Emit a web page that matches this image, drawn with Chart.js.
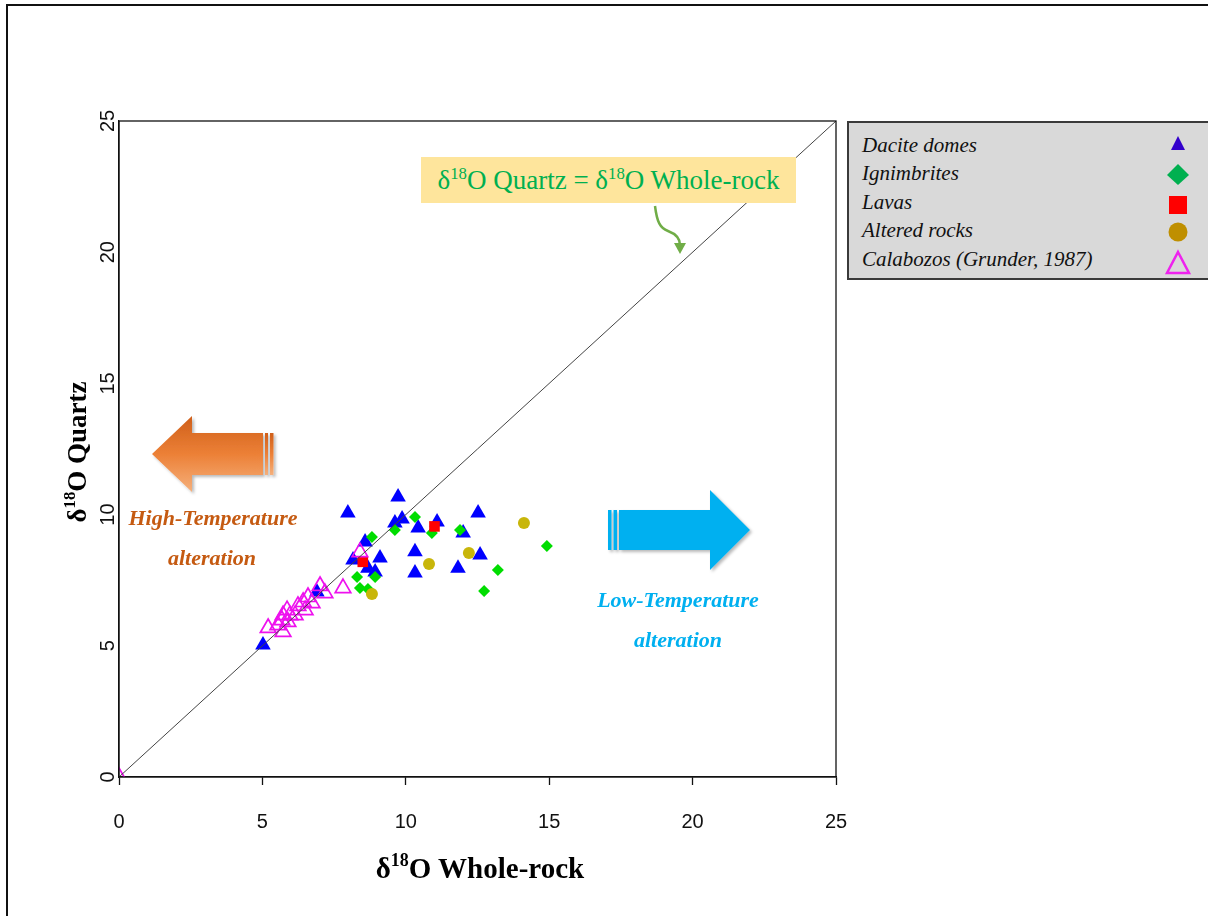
<!DOCTYPE html>
<html>
<head>
<meta charset="utf-8">
<script src="https://cdn.jsdelivr.net/npm/chart.js@4.4.1/dist/chart.umd.min.js"></script>
<style>
  html, body { margin: 0; padding: 0; background: #fff; }
  #wrap { position: relative; width: 1208px; height: 916px; overflow: hidden; background: #fff; }
  #frame { position: absolute; left: 6px; top: 4px; width: 1300px; height: 1000px;
           border-left: 2px solid #111; border-top: 2px solid #111; pointer-events: none; }
  #chart { position: absolute; left: 0; top: 0; }
  .serif { font-family: "Liberation Serif", "Times New Roman", serif; white-space: nowrap; position: absolute; }
  .sup { font-size: 0.62em; vertical-align: 0.62em; line-height: 0; }
  #xtitle { left: 480px; top: 868px; transform: translate(-50%, -50%); font-weight: bold; font-size: 29px; color: #000; }
  #ytitle { left: 77px; top: 452px; transform: translate(-50%, -50%) rotate(-90deg); font-weight: bold; font-size: 27px; color: #000; }
  #identity { left: 421px; top: 157px; width: 375px; height: 46px; background: #fee59c;
              color: #00b050; font-size: 27px; line-height: 46px; text-align: center; }
  .note { font-weight: bold; font-style: italic; font-size: 22px; transform: translate(-50%, -50%); }
  #legend { position: absolute; left: 847px; top: 121px; width: 400px; height: 155px;
            background: #d9d9d9; border: 2px solid #3a3a3a; }
  .lg { position: absolute; left: 13px; font-family: "Liberation Serif", "Times New Roman", serif;
        font-style: italic; font-size: 21px; color: #111; white-space: nowrap; }
  svg { position: absolute; left: 0; top: 0; overflow: visible; }
</style>
</head>
<body>
<div id="wrap">
  <canvas id="chart" width="1208" height="916"></canvas>

  <!-- alteration arrows and the pointer to the 1:1 line -->
  <svg width="1208" height="916" viewBox="0 0 1208 916">
    <defs>
      <linearGradient id="hotGrad" x1="0" y1="0" x2="0" y2="1">
        <stop offset="0" stop-color="#cf5f1a"/>
        <stop offset="0.5" stop-color="#ec8036"/>
        <stop offset="1" stop-color="#f5b07c"/>
      </linearGradient>
      <filter id="shade" x="-10%" y="-10%" width="130%" height="130%">
        <feDropShadow dx="2" dy="2" stdDeviation="1.5" flood-color="#000" flood-opacity="0.28"/>
      </filter>
    </defs>
    <g filter="url(#shade)">
      <path d="M152 454 L192 416 L192 433 L263 433 L263 475 L192 475 L192 492 Z" fill="url(#hotGrad)"/>
      <rect x="265" y="433" width="3" height="42" fill="url(#hotGrad)"/>
      <rect x="270" y="433" width="3.5" height="42" fill="url(#hotGrad)"/>
    </g>
    <g filter="url(#shade)">
      <rect x="608" y="510" width="3.5" height="40" fill="#00b0f0"/>
      <rect x="613.5" y="510" width="3.5" height="40" fill="#00b0f0"/>
      <path d="M619 510 L710 510 L710 490 L750 530 L710 570 L710 550 L619 550 Z" fill="#00b0f0"/>
    </g>
    <path d="M655 206 C 657 222, 660 228, 668 231 C 676 234, 680 238, 680 245" fill="none" stroke="#70ad47" stroke-width="2.5"/>
    <path d="M674 243 L686 243 L680 254 Z" fill="#70ad47"/>
  </svg>

  <div class="serif" id="identity">&delta;<span class="sup">18</span>O Quartz = &delta;<span class="sup">18</span>O Whole-rock</div>

  <div class="serif note" style="left:213px; top:518px; color:#c55a11;">High-Temperature</div>
  <div class="serif note" style="left:212px; top:558px; color:#c55a11;">alteration</div>
  <div class="serif note" style="left:678px; top:600px; color:#00b0f0;">Low-Temperature</div>
  <div class="serif note" style="left:678px; top:640px; color:#00b0f0;">alteration</div>

  <div class="serif" id="xtitle">&delta;<span class="sup">18</span>O Whole-rock</div>
  <div class="serif" id="ytitle">&delta;<span class="sup">18</span>O Quartz</div>

  <div id="legend">
    <div class="lg" style="top:10px;">Dacite domes</div>
    <div class="lg" style="top:38px;">Ignimbrites</div>
    <div class="lg" style="top:67px;">Lavas</div>
    <div class="lg" style="top:95px;">Altered rocks</div>
    <div class="lg" style="top:124px;">Calabozos (Grunder, 1987)</div>
    <svg width="400" height="160">
      <path d="M329 13 L336 27 L322 27 Z" fill="#3300cc"/>
      <path d="M329 41 L340 52 L329 62 L318 52 Z" fill="#00b050"/>
      <rect x="320" y="73" width="18" height="18" fill="#ff0000"/>
      <circle cx="329" cy="109" r="9.5" fill="#bf8f00"/>
      <path d="M329 129 L340 150 L318 150 Z" fill="none" stroke="#ee22ee" stroke-width="2.5"/>
    </svg>
  </div>

  <div id="frame"></div>
</div>

<script>
// δ18O whole-rock (x) vs δ18O quartz (y), per rock group
const daciteX = [5.02, 6.90, 7.98, 8.16, 8.58, 8.68, 8.93, 9.10, 9.62, 9.73, 9.87, 10.32, 10.32, 10.43, 11.09, 11.82, 12.00, 12.52, 12.59];
const daciteY = [5.03, 7.05, 10.06, 8.27, 8.96, 7.96, 7.81, 8.35, 9.68, 10.67, 9.83, 8.58, 7.77, 9.49, 9.72, 7.96, 9.30, 10.06, 8.46];

const ignimbriteX = [8.30, 8.40, 8.68, 8.82, 8.93, 9.62, 10.32, 10.91, 11.89, 12.73, 13.21, 14.92];
const ignimbriteY = [7.62, 7.20, 7.16, 9.15, 7.62, 9.41, 9.91, 9.30, 9.41, 7.09, 7.89, 8.80];

const lavaX = [8.50, 11.00];
const lavaY = [8.20, 9.55];

const alteredX = [8.82, 10.81, 12.20, 14.12];
const alteredY = [6.97, 8.12, 8.54, 9.68];

const calabozosX = [0.00, 5.20, 5.54, 5.68, 5.72, 5.72, 5.86, 5.89, 5.96, 6.14, 6.24, 6.42, 6.49, 6.59, 6.73, 7.01, 7.18, 7.81, 8.40];
const calabozosY = [0.00, 5.68, 5.79, 5.98, 5.53, 6.17, 6.36, 5.91, 6.17, 6.17, 6.52, 6.67, 6.36, 6.86, 6.63, 7.28, 7.01, 7.20, 8.57];

// 1:1 reference line end points
const identityX = [0, 25];
const identityY = [0, 25];

const axisTicks = [0, 5, 10, 15, 20, 25];

const pairs = (xs, ys) => xs.map((x, i) => ({ x: x, y: ys[i] }));

// frame around the plotting region plus rotated y tick labels
const boxAndLabels = {
  id: 'boxAndLabels',
  afterDraw(chart) {
    const { ctx, chartArea: a, scales } = chart;
    ctx.save();
    ctx.strokeStyle = '#111';
    ctx.lineWidth = 1.3;
    ctx.strokeRect(a.left, a.top, a.right - a.left, a.bottom - a.top);
    ctx.fillStyle = '#111';
    ctx.font = '20px "Liberation Sans", Arial, sans-serif';
    ctx.textAlign = 'center';
    ctx.textBaseline = 'middle';
    scales.y.ticks.forEach(t => {
      const py = scales.y.getPixelForValue(t.value);
      ctx.save();
      ctx.translate(a.left - 11, py);
      ctx.rotate(-Math.PI / 2);
      ctx.fillText(String(t.value), 0, 0);
      ctx.restore();
    });
    ctx.restore();
  }
};

new Chart(document.getElementById('chart'), {
  type: 'scatter',
  data: {
    datasets: [
      {
        label: 'identity', type: 'line', data: pairs(identityX, identityY),
        borderColor: '#444', borderWidth: 1, pointRadius: 0, fill: false, order: 0
      },
      {
        label: 'Calabozos (Grunder, 1987)', data: pairs(calabozosX, calabozosY),
        pointStyle: 'triangle', pointRadius: 9, backgroundColor: 'rgba(0,0,0,0)',
        borderColor: '#ee11ee', borderWidth: 1.7, clip: 0, order: 1
      },
      {
        label: 'Altered rocks', data: pairs(alteredX, alteredY),
        pointStyle: 'circle', pointRadius: 6, backgroundColor: '#c8b60a',
        borderColor: '#c8b60a', borderWidth: 0, order: 2
      },
      {
        label: 'Lavas', data: pairs(lavaX, lavaY),
        pointStyle: 'rect', pointRadius: 7.5, backgroundColor: '#ff0000',
        borderColor: '#ff0000', borderWidth: 0, order: 3
      },
      {
        label: 'Ignimbrites', data: pairs(ignimbriteX, ignimbriteY),
        pointStyle: 'rectRot', pointRadius: 6, backgroundColor: '#00dd00',
        borderColor: '#00dd00', borderWidth: 0, order: 4
      },
      {
        label: 'Dacite domes', data: pairs(daciteX, daciteY),
        pointStyle: 'triangle', pointRadius: 9, backgroundColor: '#0000ff',
        borderColor: '#0000ff', borderWidth: 0, order: 5
      }
    ]
  },
  options: {
    responsive: false,
    animation: false,
    events: [],
    layout: { padding: { top: 121, right: 372, left: 0, bottom: 0 } },
    plugins: { legend: { display: false }, tooltip: { enabled: false } },
    scales: {
      x: {
        type: 'linear', min: 0, max: 25,
        afterFit: s => { s.height = 139; },
        afterBuildTicks: s => { s.ticks = axisTicks.map(v => ({ value: v })); },
        border: { display: true, color: '#111', width: 1.3 },
        grid: { display: true, drawOnChartArea: false, drawTicks: true, tickLength: 8, tickColor: '#111', tickWidth: 1.3 },
        ticks: { color: '#111', padding: 25, maxRotation: 0, font: { family: '"Liberation Sans", Arial, sans-serif', size: 20 } }
      },
      y: {
        type: 'linear', min: 0, max: 25,
        afterFit: s => { s.width = 119; },
        afterBuildTicks: s => { s.ticks = axisTicks.map(v => ({ value: v })); },
        border: { display: true, color: '#111', width: 1.3 },
        grid: { display: true, drawOnChartArea: false, drawTicks: false },
        ticks: { display: false }
      }
    }
  },
  plugins: [boxAndLabels]
});
</script>
</body>
</html>
